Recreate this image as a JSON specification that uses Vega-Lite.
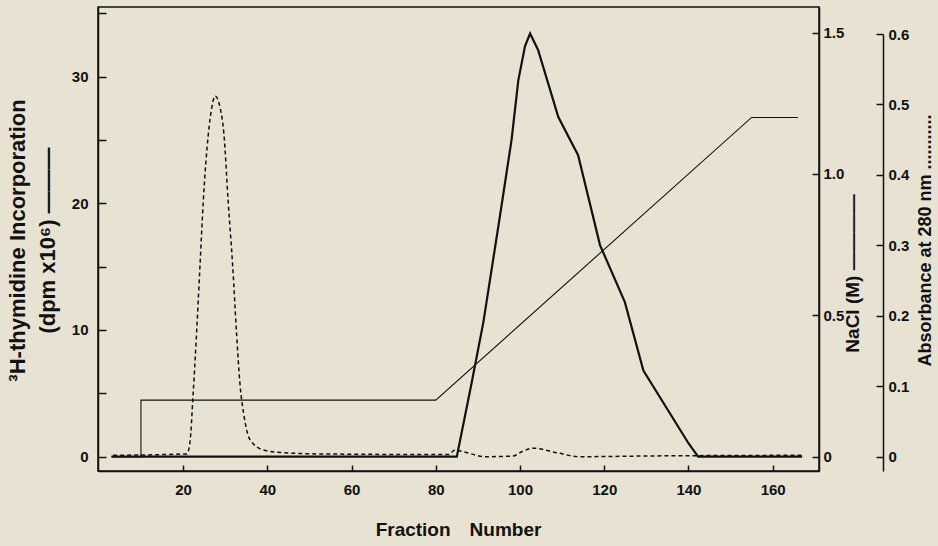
{
  "$schema": "https://vega.github.io/schema/vega-lite/v6.json",
  "width": 721,
  "height": 464,
  "autosize": "none",
  "padding": {"left": 98, "top": 7, "right": 119, "bottom": 75},
  "background": "#e8e2d3",
  "config": {
    "view": {"stroke": "#111111", "strokeWidth": 1.5},
    "font": "Liberation Sans",
    "axis": {
      "domainColor": "#111111", "domainWidth": 1.5,
      "tickColor": "#111111", "tickWidth": 1.5,
      "labelColor": "#111111", "titleColor": "#111111",
      "labelFont": "Liberation Sans", "labelFontWeight": "bold", "labelFontSize": 15,
      "titleFont": "Liberation Sans", "titleFontWeight": "bold",
      "grid": false
    }
  },
  "datasets": {
    "thy": [
      {"f": 3, "v": 0}, {"f": 85, "v": 0}, {"f": 88.5, "v": 5.8}, {"f": 91.3, "v": 10.6},
      {"f": 95.2, "v": 18.9}, {"f": 98, "v": 25.0}, {"f": 99.6, "v": 29.7}, {"f": 101.2, "v": 32.4},
      {"f": 102.4, "v": 33.4}, {"f": 104.3, "v": 32.1}, {"f": 109.1, "v": 26.8}, {"f": 113.8, "v": 23.8},
      {"f": 119, "v": 16.7}, {"f": 124.9, "v": 12.2}, {"f": 129.3, "v": 6.8}, {"f": 140, "v": 1.06},
      {"f": 142.3, "v": 0}, {"f": 167, "v": 0}
    ],
    "nacl": [
      {"seq": 1, "f": 3, "v": 0}, {"seq": 2, "f": 10, "v": 0}, {"seq": 3, "f": 10, "v": 0.2},
      {"seq": 4, "f": 80, "v": 0.2}, {"seq": 5, "f": 155, "v": 1.2}, {"seq": 6, "f": 166, "v": 1.2}
    ],
    "abs": [
      {"f": 3.4, "v": 0.002}, {"f": 20.9, "v": 0.004}, {"f": 21.7, "v": 0.024}, {"f": 22.3, "v": 0.08},
      {"f": 23.2, "v": 0.175}, {"f": 24.0, "v": 0.269}, {"f": 24.8, "v": 0.363}, {"f": 26.0, "v": 0.458},
      {"f": 26.8, "v": 0.495}, {"f": 27.6, "v": 0.512}, {"f": 28.8, "v": 0.495}, {"f": 29.7, "v": 0.458},
      {"f": 30.7, "v": 0.363}, {"f": 31.8, "v": 0.269}, {"f": 32.7, "v": 0.175}, {"f": 33.5, "v": 0.104},
      {"f": 34.5, "v": 0.057}, {"f": 35.9, "v": 0.024}, {"f": 39.1, "v": 0.0095}, {"f": 43.8, "v": 0.0057},
      {"f": 51.7, "v": 0.004}, {"f": 83, "v": 0.003}, {"f": 84.6, "v": 0.0095}, {"f": 86.5, "v": 0.007},
      {"f": 92, "v": 0.0}, {"f": 98.4, "v": 0.001}, {"f": 100.4, "v": 0.007}, {"f": 103.2, "v": 0.012},
      {"f": 108.7, "v": 0.0057}, {"f": 114.2, "v": 0.0}, {"f": 130, "v": 0.001}, {"f": 167, "v": 0.002}
    ]
  },
  "layer": [
    {
      "data": {"name": "nacl"},
      "mark": {"type": "line", "color": "#111111", "strokeWidth": 1.1},
      "encoding": {
        "x": {"field": "f", "type": "quantitative",
          "scale": {"domain": [-0.2, 171], "nice": false, "zero": false},
          "axis": {"values": [20, 40, 60, 80, 100, 120, 140, 160], "tickSize": -6, "labelPadding": 17,
            "title": "Fraction\u2003Number", "titleFontSize": 19, "titleX": 360, "titleY": 64,
            "titleAlign": "center", "titleBaseline": "alphabetic"}},
        "y": {"field": "v", "type": "quantitative",
          "scale": {"domain": [-0.0506, 1.5907], "nice": false, "zero": false},
          "axis": {"orient": "right", "values": [0, 0.5, 1, 1.5],
            "labelExpr": "datum.value === 0 ? '0' : format(datum.value, '.1f')",
            "tickSize": -7, "labelPadding": 11,
            "title": "NaCl (M) \u2014\u2014\u2014\u2014", "titleFontSize": 19, "titleAngle": -90,
            "titleAlign": "center", "titleBaseline": "middle", "titleX": 33, "titleY": 266}},
        "order": {"field": "seq", "type": "quantitative"}
      }
    },
    {
      "data": {"name": "abs"},
      "mark": {"type": "line", "color": "#111111", "strokeWidth": 1.5, "strokeDash": [4, 3], "interpolate": "monotone"},
      "encoding": {
        "x": {"field": "f", "type": "quantitative",
          "scale": {"domain": [-0.2, 171], "nice": false, "zero": false}},
        "y": {"field": "v", "type": "quantitative",
          "scale": {"domain": [-0.0203, 0.6], "range": [464, 27], "nice": false, "zero": false},
          "axis": {"orient": "right", "offset": 64, "values": [0, 0.1, 0.2, 0.3, 0.4, 0.5, 0.6],
            "labelExpr": "datum.value === 0 ? '0' : format(datum.value, '.1f')",
            "tickSize": -7, "labelPadding": 12,
            "title": "Absorbance at 280 nm ...........", "titleFontSize": 18, "titleAngle": -90,
            "titleAlign": "center", "titleBaseline": "middle", "titleX": 42, "titleY": 233}}
      }
    },
    {
      "data": {"name": "thy"},
      "mark": {"type": "line", "color": "#111111", "strokeWidth": 2.2},
      "encoding": {
        "x": {"field": "f", "type": "quantitative",
          "scale": {"domain": [-0.2, 171], "nice": false, "zero": false}},
        "y": {"field": "v", "type": "quantitative",
          "scale": {"domain": [-1.13, 35.49], "nice": false, "zero": false},
          "axis": {"orient": "left", "values": [0, 5, 10, 15, 20, 25, 30, 35],
            "labelExpr": "datum.value % 10 === 0 ? datum.label : ''",
            "tickSize": -8, "labelPadding": 18,
            "title": ["\u00b3H-thymidine Incorporation", "(dpm x10\u2076) \u2014\u2014\u2014"],
            "titleFontSize": 22, "titleAngle": -90, "titleAlign": "center", "titleBaseline": "top",
            "titleX": -91, "titleY": 233, "titleLineHeight": 30}}
      }
    }
  ],
  "resolve": {"scale": {"y": "independent"}, "axis": {"y": "independent"}}
}
